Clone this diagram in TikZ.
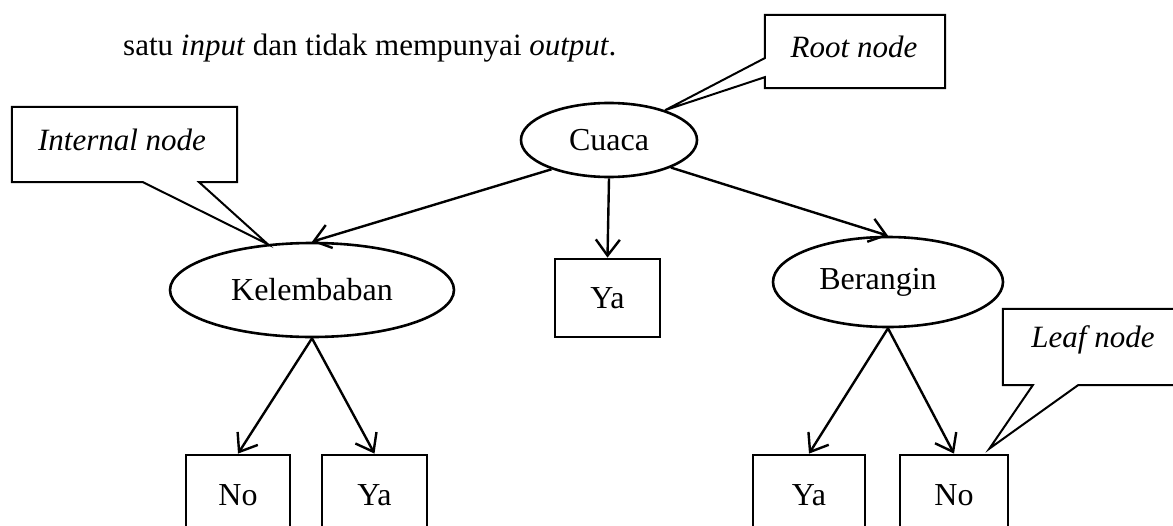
\documentclass[tikz,border=0pt]{standalone}
\usepackage{fontspec}
\setmainfont{Liberation Serif}
\usetikzlibrary{shapes.geometric,arrows.meta,calc}
\begin{document}
\begin{tikzpicture}[x=1pt,y=-1pt,
  ell/.style={draw,ellipse,line width=2.6pt,inner sep=0pt,font=\fontsize{32}{38}\selectfont},
  leafbox/.style={draw,rectangle,line width=2.8pt,inner sep=0pt,font=\fontsize{32}{38}\selectfont},
  arr/.style={line width=2.4pt,-{Straight Barb[length=16pt,width=24pt]}},
  cbox/.style={inner sep=0pt},
  ctext/.style={font=\itshape\fontsize{31}{36}\selectfont,inner sep=0pt},
  cline/.style={line width=2pt,line join=miter},
  bodytext/.style={font=\fontsize{31}{36}\selectfont,inner sep=0pt}
]
\useasboundingbox (0,0) rectangle (1173,525);
\clip (0,0) rectangle (1173,525);

% top line of body text
\node[bodytext,anchor=west] (body) at (123,48) {satu \textit{input} dan tidak mempunyai \textit{output}.};

% tree nodes
\node[ell,minimum width=176pt,minimum height=74pt] (cuaca) at (609,140) {Cuaca};
\node[ell,minimum width=284pt,minimum height=94pt] (kel) at (312,290) {Kelembaban};
\node[ell,minimum width=230pt,minimum height=90pt] (ber) at (888,282) {\hspace*{-20pt}Berangin};
\node[leafbox,minimum width=105pt,minimum height=78pt] (yam) at (607.5,298) {Ya};
\node[leafbox,minimum width=104pt,minimum height=80pt] (no1) at (238,495) {No};
\node[leafbox,minimum width=105pt,minimum height=80pt] (ya1) at (374.5,495) {Ya};
\node[leafbox,minimum width=112pt,minimum height=80pt] (ya2) at (809,495) {Ya};
\node[leafbox,minimum width=108pt,minimum height=80pt] (no2) at (954,495) {No};

% connectors
\draw[arr] (cuaca.207) -- (kel.north);
\draw[arr] (cuaca.south) -- (yam.north);
\draw[arr] (cuaca.-24) -- (ber.north);
\draw[arr] (kel.south) -- (no1.north);
\draw[arr] (kel.south) -- (ya1.north);
\draw[arr] (ber.south) -- (ya2.north);
\draw[arr] (ber.south) -- (no2.north);

% callout: Root node
\node[cbox,minimum width=180pt,minimum height=73pt] (rootc) at (855,51.5) {};
\node[ctext] (roott) at (854,47) {Root node};
\draw[cline] (rootc.north west) -- (rootc.north east) -- (rootc.south east) -- (rootc.south west)
  -- ($(rootc.north west)!0.85!(rootc.south west)$) -- (cuaca.28)
  -- ($(rootc.north west)!0.59!(rootc.south west)$) -- cycle;

% callout: Internal node
\node[cbox,minimum width=225pt,minimum height=75pt] (intc) at (124.5,144.5) {};
\node[ctext] (intt) at (122,140) {Internal node};
\draw[cline] (intc.north west) -- (intc.north east) -- (intc.south east)
  -- ($(intc.south west)!0.831!(intc.south east)$) -- (kel.134)
  -- ($(intc.south west)!0.582!(intc.south east)$) -- (intc.south west) -- cycle;

% callout: Leaf node
\coordinate (leaftip) at ($(no2.north east)+(-20,-5)$);
\node[cbox,minimum width=177pt,minimum height=76pt] (leafc) at (1091.5,347) {};
\node[ctext] (leaft) at (1093,340) {Leaf node};
\draw[cline] (leafc.north west) -- (leafc.north east) -- (leafc.south east)
  -- ($(leafc.south west)!0.424!(leafc.south east)$) -- (leaftip)
  -- ($(leafc.south west)!0.169!(leafc.south east)$) -- (leafc.south west) -- cycle;
\end{tikzpicture}
\end{document}
